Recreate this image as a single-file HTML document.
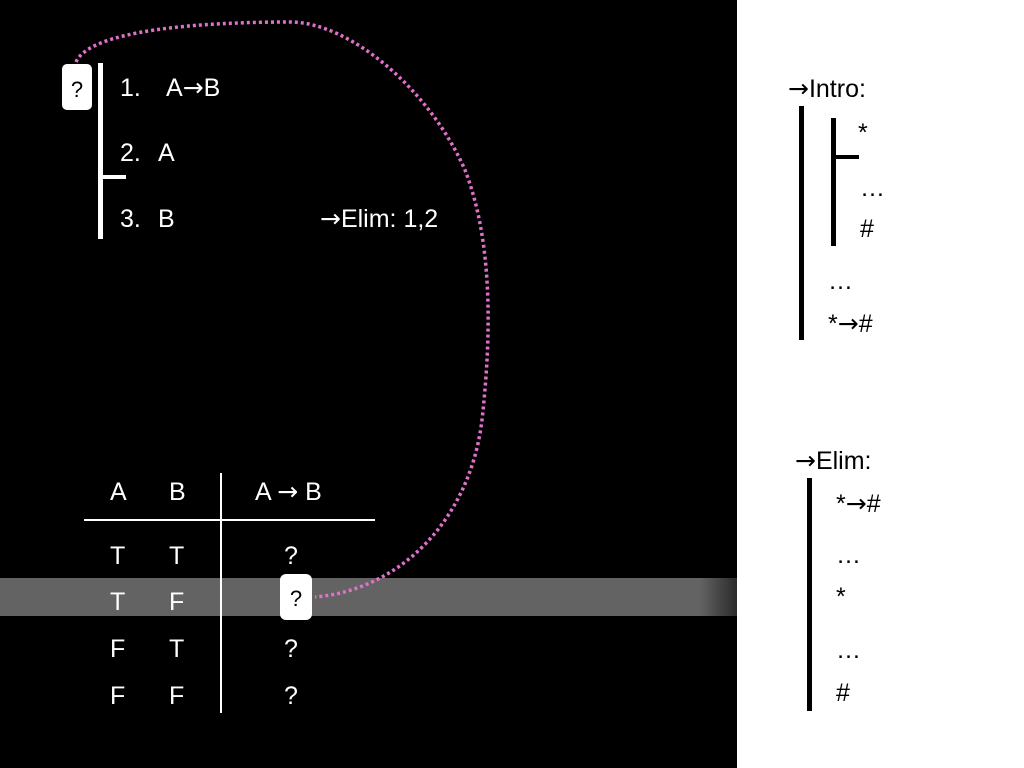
<!DOCTYPE html>
<html><head><meta charset="utf-8"><style>
html,body{margin:0;padding:0;background:#000;}
svg{display:block}
text{font-family:"Liberation Sans","DejaVu Sans",sans-serif;}
.ar{font-family:"DejaVu Sans",sans-serif;}
</style></head><body>
<svg width="1024" height="768" viewBox="0 0 1024 768">
<defs><linearGradient id="fade" x1="0" x2="1"><stop offset="0" stop-color="#636363"/><stop offset="1" stop-color="#2a2a2a"/></linearGradient></defs>
<rect x="0" y="0" width="737" height="768" fill="#000"/>
<rect x="737" y="0" width="287" height="768" fill="#fff"/>
<g>
<rect x="0" y="578" width="705" height="38" fill="#636363"/>
<rect x="700" y="578" width="37" height="38" fill="url(#fade)"/>
</g>
<path d="M76,62 C90,30 200,22 290,22 C350,22 430,90 465,170 C492,240 492,330 482,420 C470,520 400,590 315,597" fill="none" stroke="#e070c8" stroke-width="3.5" stroke-dasharray="3,3"/>
<g fill="#fff" font-size="25">
<rect x="98" y="63" width="5" height="176"/>
<rect x="98" y="175" width="28" height="4"/>
<text x="120" y="96">1.</text><text x="166" y="96">A<tspan class="ar">→</tspan>B</text>
<text x="120" y="161">2.</text><text x="158" y="161">A</text>
<text x="120" y="227">3.</text><text x="158" y="227">B</text>
<text x="320" y="227"><tspan class="ar">→</tspan>Elim: 1,2</text>
</g>
<g>
<rect x="62" y="64" width="30" height="46" rx="5" fill="#fff"/>
<text x="77" y="97" font-size="22" text-anchor="middle" fill="#000">?</text>
</g>
<g fill="#fff" font-size="25">
<text x="110" y="500">A</text><text x="169" y="500">B</text><text x="255" y="500">A <tspan class="ar">→</tspan> B</text>
<rect x="84" y="519" width="291" height="2"/>
<rect x="220" y="473" width="2" height="240"/>
<text x="110" y="564">T</text><text x="169" y="564">T</text><text x="284" y="564">?</text>
<text x="110" y="610">T</text><text x="169" y="610">F</text>
<text x="110" y="657">F</text><text x="169" y="657">T</text><text x="284" y="657">?</text>
<text x="110" y="704">F</text><text x="169" y="704">F</text><text x="284" y="704">?</text>
</g>
<g>
<rect x="280" y="574" width="32" height="46" rx="6" fill="#fff"/>
<text x="296" y="606" font-size="22" text-anchor="middle" fill="#000">?</text>
</g>
<g fill="#000" font-size="25">
<text x="788" y="97"><tspan class="ar">→</tspan>Intro:</text>
<rect x="799" y="106" width="5" height="234"/>
<rect x="831" y="118" width="5" height="128"/>
<rect x="833" y="155" width="26" height="4"/>
<text x="858" y="141">*</text>
<text x="860" y="196">…</text>
<text x="860" y="237">#</text>
<text x="828" y="289">…</text>
<text x="828" y="332">*<tspan class="ar">→</tspan>#</text>
</g>
<g fill="#000" font-size="25">
<text x="795" y="469"><tspan class="ar">→</tspan>Elim:</text>
<rect x="807" y="478" width="5" height="233"/>
<text x="836" y="512">*<tspan class="ar">→</tspan>#</text>
<text x="836" y="563">…</text>
<text x="836" y="605">*</text>
<text x="836" y="658">…</text>
<text x="836" y="701">#</text>
</g>
</svg>
</body></html>
